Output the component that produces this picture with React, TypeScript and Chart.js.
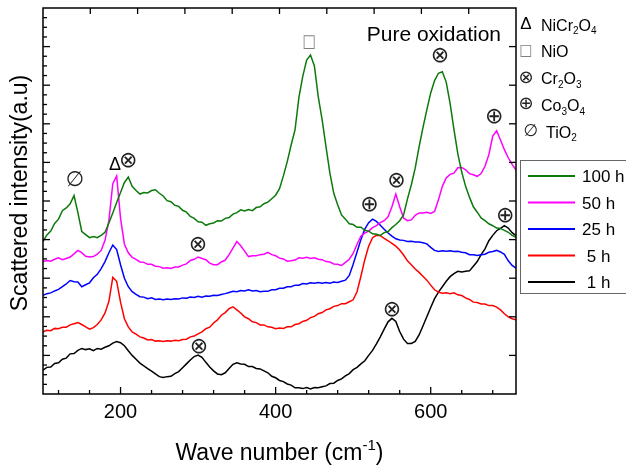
import { useEffect, useRef } from "react";
import { Chart, registerables } from "chart.js";

Chart.register(...registerables);

// Raman spectra of the oxidised alloy, sampled every 5 cm-1 from 100 to 710 cm-1
const WAVE_MIN = 100;
const WAVE_MAX = 710;
const WAVE_STEP = 5;
const wavenumbers = Array.from(
  { length: (WAVE_MAX - WAVE_MIN) / WAVE_STEP + 1 },
  (_, i) => WAVE_MIN + i * WAVE_STEP
);

const oxid100h = [
  3.95, 4.12, 4.22, 4.42, 4.53, 4.75, 4.82, 4.93, 5.14, 4.7,
  4.21, 4.13, 4.05, 4.08, 4.05, 4.11, 4.19, 4.43, 4.69, 4.96,
  5.22, 5.48, 5.62, 5.38, 5.27, 5.18, 5.22, 5.21, 5.27, 5.29,
  5.2, 5.13, 5.01, 4.98, 4.89, 4.86, 4.76, 4.71, 4.6, 4.55,
  4.46, 4.45, 4.37, 4.41, 4.43, 4.49, 4.48, 4.55, 4.57, 4.66,
  4.7, 4.77, 4.74, 4.78, 4.75, 4.83, 4.85, 4.93, 4.97, 5.06,
  5.15, 5.32, 5.65, 6.02, 6.45, 6.84, 7.68, 8.23, 8.65, 8.78,
  8.5, 7.7, 7.1, 6.4, 5.72, 5.2, 4.9, 4.64, 4.53, 4.41,
  4.39, 4.32, 4.32, 4.24, 4.22, 4.15, 4.14, 4.11, 4.18, 4.21,
  4.31, 4.39, 4.49, 4.64, 5.05, 5.42, 5.85, 6.4, 6.9, 7.36,
  7.8, 8.12, 8.31, 8.35, 8.08, 7.53, 6.85, 6.22, 5.75, 5.38,
  5.1, 4.85, 4.71, 4.56, 4.49, 4.41, 4.36, 4.3, 4.29, 4.24,
  4.19, 4.11, 4.06,
];

const oxid50h = [
  3.43, 3.46, 3.44, 3.49, 3.53, 3.48, 3.51, 3.55, 3.63, 3.72,
  3.66, 3.57, 3.55, 3.56, 3.62, 3.72, 3.98, 4.5, 5.45, 5.65,
  4.55, 3.88, 3.66, 3.54, 3.49, 3.42, 3.41, 3.36, 3.36, 3.31,
  3.3, 3.26, 3.27, 3.25, 3.29, 3.29, 3.34, 3.37, 3.46, 3.49,
  3.55, 3.51, 3.48, 3.39, 3.35, 3.35, 3.42, 3.47, 3.61, 3.78,
  3.95, 3.84, 3.7, 3.56, 3.58, 3.58, 3.61, 3.62, 3.67, 3.61,
  3.58, 3.52, 3.5, 3.44, 3.45, 3.47, 3.53, 3.52, 3.54, 3.51,
  3.53, 3.49, 3.48, 3.43, 3.42, 3.37, 3.36, 3.33, 3.41, 3.49,
  3.64, 3.88, 4.09, 4.17, 4.22, 4.31, 4.36, 4.44, 4.49, 4.59,
  4.85, 5.18, 4.85, 4.56, 4.49, 4.51, 4.63, 4.69, 4.69, 4.71,
  4.68, 4.73, 5.03, 5.38, 5.6, 5.69, 5.72, 5.86, 5.87, 5.81,
  5.71, 5.68, 5.64, 5.71, 5.9, 6.2, 6.68, 6.82, 6.58, 6.33,
  6.12, 5.95, 5.8,
];

const oxid25h = [
  2.56, 2.6, 2.62, 2.67, 2.71, 2.78, 2.85, 2.94, 2.91, 2.9,
  2.78, 2.83, 2.88, 3.01, 3.1, 3.25, 3.43, 3.66, 3.86, 3.74,
  3.35, 3.0, 2.78, 2.65, 2.58, 2.52, 2.51, 2.47, 2.49, 2.45,
  2.46, 2.44, 2.46, 2.45, 2.47, 2.46, 2.49, 2.48, 2.51, 2.5,
  2.53, 2.51, 2.54, 2.53, 2.56, 2.55, 2.58, 2.6, 2.63, 2.66,
  2.65, 2.68, 2.67, 2.7, 2.67, 2.68, 2.65, 2.66, 2.66, 2.7,
  2.7, 2.74, 2.74, 2.78, 2.78, 2.82, 2.82, 2.86, 2.85, 2.88,
  2.87, 2.89, 2.87, 2.89, 2.87, 2.9, 2.89, 2.92, 2.95, 3.07,
  3.36, 3.68, 4.0, 4.27, 4.44, 4.53, 4.47, 4.37, 4.27, 4.17,
  4.09, 4.02, 3.99, 3.98, 3.95, 3.96, 3.94, 3.94, 3.92, 3.89,
  3.8, 3.72, 3.69, 3.71, 3.7, 3.71, 3.69, 3.7, 3.67, 3.66,
  3.61, 3.61, 3.59, 3.61, 3.62, 3.67, 3.69, 3.72, 3.68, 3.62,
  3.45, 3.33, 3.26,
];

const oxid5h = [
  1.61, 1.65, 1.64, 1.7, 1.69, 1.73, 1.73, 1.79, 1.82, 1.85,
  1.8, 1.74, 1.68, 1.72, 1.8, 1.92, 2.1, 2.4, 3.02, 2.92,
  2.38, 1.95, 1.74, 1.61, 1.55, 1.48, 1.45, 1.4, 1.41, 1.37,
  1.38, 1.36, 1.38, 1.37, 1.39, 1.38, 1.41, 1.42, 1.48, 1.5,
  1.56, 1.61, 1.69, 1.73, 1.84, 1.92, 2.04, 2.11, 2.21, 2.26,
  2.18, 2.1, 2.0, 1.95, 1.87, 1.85, 1.79, 1.79, 1.74, 1.73,
  1.69, 1.71, 1.7, 1.74, 1.74, 1.8, 1.82, 1.88, 1.91, 1.98,
  2.01, 2.08, 2.11, 2.18, 2.21, 2.27, 2.29, 2.34, 2.34, 2.39,
  2.44, 2.65, 3.05, 3.48, 3.83, 4.05, 4.11, 4.1, 4.03, 3.97,
  3.9, 3.83, 3.73, 3.6, 3.45, 3.35, 3.24, 3.15, 3.05, 2.95,
  2.82, 2.7, 2.64, 2.61, 2.62, 2.6, 2.62, 2.57, 2.55, 2.49,
  2.45, 2.38, 2.37, 2.33, 2.33, 2.29, 2.29, 2.25, 2.18, 2.08,
  2.0, 1.95, 1.92,
];

const oxid1h = [
  0.62, 0.69, 0.7, 0.79, 0.81, 0.9, 0.93, 1.04, 1.05, 1.13,
  1.18, 1.15, 1.17, 1.12, 1.18, 1.16, 1.21, 1.25, 1.32, 1.36,
  1.33, 1.25, 1.12, 1.0, 0.9, 0.8, 0.73, 0.66, 0.59, 0.52,
  0.45, 0.43, 0.45, 0.46, 0.53, 0.58, 0.68, 0.78, 0.88, 0.97,
  1.01, 0.95, 0.82, 0.7, 0.6, 0.52, 0.5, 0.55, 0.66, 0.77,
  0.81, 0.78, 0.77, 0.71, 0.71, 0.66, 0.65, 0.6, 0.55, 0.46,
  0.42, 0.35, 0.32, 0.26, 0.23, 0.16, 0.16, 0.14, 0.17, 0.13,
  0.17, 0.16, 0.19, 0.21, 0.27, 0.28, 0.35, 0.39, 0.47, 0.53,
  0.63, 0.69, 0.78, 0.86, 1.0, 1.13, 1.3, 1.48, 1.68, 1.87,
  1.96, 1.88, 1.62, 1.42, 1.31, 1.31, 1.36, 1.53, 1.76, 2.0,
  2.24, 2.47, 2.64, 2.78, 2.92, 3.04, 3.12, 3.18, 3.16, 3.18,
  3.19, 3.31, 3.43, 3.61, 3.76, 3.97, 4.11, 4.23, 4.29, 4.36,
  4.3, 4.18, 4.1,
];

const seriesLabels = ["100 h", "50 h", "25 h", " 5 h", " 1 h"];
const seriesColors = ["#0b7a0b", "#ff00ff", "#0000ff", "#ff0000", "#000000"];
const seriesValues = [oxid100h, oxid50h, oxid25h, oxid5h, oxid1h];

// Axis ticks (bottom wave-number scale, top mirror scale, intensity scale)
const xMajorTicks = [200, 400, 600];
const xMinorTicks = [120, 160, 240, 280, 320, 360, 440, 480, 520, 560, 640, 680];
const xTopTicks = [161, 222, 283, 344, 405, 466, 527, 588, 649];
const yMajorTicks = [1, 2, 3, 4, 5, 6, 7, 8, 9];
const yMinorPerMajor = 4;

// Phase key
const phaseSymbols = ["Δ", "□", "⊗", "⊕", "∅"];
const phaseNames = ["NiCr2O4", "NiO", "Cr2O3", "Co3O4", "TiO2"];

// Peak assignments: symbol, wave number, height
const peakSymbols = ["∅", "Δ", "⊗", "⊗", "⊗", "□", "⊕", "⊗", "⊗", "⊗", "⊕", "⊕"];
const peakWaves = [141, 193, 210, 300, 301, 443, 521, 556, 550, 612, 682, 696];
const peakHeights = [5.54, 5.93, 6.02, 3.86, 1.21, 9.1, 4.9, 5.5, 2.18, 8.76, 7.17, 4.61];

const TITLE = "Pure oxidation";
const X_TITLE = "Wave number (cm";
const X_TITLE_SUP = "-1";
const Y_TITLE = "Scattered intensity(a.u)";

const SANS = "'Liberation Sans', Arial, Helvetica, sans-serif";
const SYMBOL = "'DejaVu Sans', sans-serif";

type Run = { t: string; kind: "n" | "sub" | "sup" };

function chemRuns(name: string): Run[] {
  return name
    .split(/(\d+)/)
    .filter((s) => s.length > 0)
    .map((s) => ({ t: s, kind: /^\d+$/.test(s) ? "sub" : "n" }));
}

function drawRuns(
  ctx: CanvasRenderingContext2D,
  runs: Run[],
  x: number,
  baseline: number,
  size: number,
  align: "left" | "center"
) {
  const small = Math.round(size * 0.64);
  const widths = runs.map((r) => {
    ctx.font = `${r.kind === "n" ? size : small}px ${SANS}`;
    return ctx.measureText(r.t).width;
  });
  const total = widths.reduce((a, b) => a + b, 0);
  let cx = align === "center" ? x - total / 2 : x;
  ctx.textAlign = "left";
  ctx.textBaseline = "alphabetic";
  runs.forEach((r, i) => {
    ctx.font = `${r.kind === "n" ? size : small}px ${SANS}`;
    const dy = r.kind === "sub" ? size * 0.24 : r.kind === "sup" ? -size * 0.45 : 0;
    ctx.fillText(r.t, cx, baseline + dy);
    cx += widths[i];
  });
}

// Draws one phase symbol centred on (x, y); `big` selects the in-plot size
function drawSymbol(ctx: CanvasRenderingContext2D, s: string, x: number, y: number, big: boolean) {
  ctx.save();
  ctx.textAlign = "center";
  ctx.textBaseline = "middle";
  ctx.translate(x, y);
  if (s === "Δ") {
    ctx.fillStyle = "#000";
    ctx.font = `${big ? 18 : 17}px ${SANS}`;
    ctx.fillText(s, 0, 0);
  } else if (s === "□") {
    ctx.fillStyle = "#808080";
    ctx.font = `${big ? 18 : 16}px ${SYMBOL}`;
    ctx.scale(big ? 0.78 : 0.85, 1);
    ctx.fillText(s, 0, 0);
  } else if (s === "∅") {
    ctx.fillStyle = "#222";
    ctx.font = `${big ? 21 : 17}px ${SYMBOL}`;
    ctx.fillText(s, 0, 0);
  } else {
    ctx.fillStyle = "#222";
    ctx.font = `${big ? 22 : 18}px ${SYMBOL}`;
    ctx.fillText(s, 0, 0);
  }
  ctx.restore();
}

const decorations = {
  id: "decorations",
  afterDatasetsDraw(chart: any) {
    const { ctx, chartArea: a, scales } = chart;
    const xs = scales.x;
    const ys = scales.y;
    ctx.save();

    const seg = (x1: number, y1: number, x2: number, y2: number) => {
      ctx.beginPath();
      ctx.moveTo(x1, y1);
      ctx.lineTo(x2, y2);
      ctx.stroke();
    };

    // frame
    ctx.strokeStyle = "#000";
    ctx.lineWidth = 1.5;
    ctx.strokeRect(a.left, a.top, a.right - a.left, a.bottom - a.top);

    // inward ticks
    ctx.lineWidth = 1.3;
    xMajorTicks.forEach((v) => {
      const px = xs.getPixelForValue(v);
      seg(px, a.bottom, px, a.bottom - 7);
    });
    xMinorTicks.forEach((v) => {
      const px = xs.getPixelForValue(v);
      seg(px, a.bottom, px, a.bottom - 4);
    });
    xTopTicks.forEach((v) => {
      const px = xs.getPixelForValue(v);
      seg(px, a.top, px, a.top + 6);
    });
    const yMinor: number[] = [];
    [0, ...yMajorTicks].forEach((m) => {
      for (let k = 1; k < yMinorPerMajor; k++) yMinor.push(m + k / yMinorPerMajor);
    });
    yMajorTicks.forEach((v) => {
      const py = ys.getPixelForValue(v);
      seg(a.left, py, a.left + 7, py);
      seg(a.right, py, a.right - 7, py);
    });
    yMinor.forEach((v) => {
      const py = ys.getPixelForValue(v);
      seg(a.left, py, a.left + 4, py);
    });

    // tick labels
    ctx.fillStyle = "#000";
    ctx.font = `20px ${SANS}`;
    ctx.textAlign = "center";
    ctx.textBaseline = "alphabetic";
    xMajorTicks.forEach((v) => {
      ctx.fillText(String(v), xs.getPixelForValue(v), a.bottom + 24);
    });

    // axis titles
    const xt: Run[] = [
      { t: X_TITLE, kind: "n" },
      { t: X_TITLE_SUP, kind: "sup" },
      { t: ")", kind: "n" },
    ];
    drawRuns(ctx, xt, (a.left + a.right) / 2, a.bottom + 66, 23, "center");

    ctx.save();
    ctx.translate(27, 193);
    ctx.rotate(-Math.PI / 2);
    ctx.font = `23px ${SANS}`;
    ctx.textAlign = "center";
    ctx.textBaseline = "alphabetic";
    ctx.fillText(Y_TITLE, 0, 0);
    ctx.restore();

    // title inside the frame
    ctx.font = `21px ${SANS}`;
    ctx.textAlign = "left";
    ctx.textBaseline = "alphabetic";
    ctx.fillText(TITLE, xs.getPixelForValue(517.5), ys.getPixelForValue(9.15));

    // peak assignment symbols
    peakSymbols.forEach((s, i) => {
      drawSymbol(ctx, s, xs.getPixelForValue(peakWaves[i]), ys.getPixelForValue(peakHeights[i]), true);
    });

    // phase key (top right, outside the frame)
    phaseSymbols.forEach((s, i) => {
      const base = 30.5 + i * 26.75;
      const indent = i === 4 ? 5 : 0;
      drawSymbol(ctx, s, a.right + 10 + indent, base - 6, false);
      ctx.fillStyle = "#000";
      drawRuns(ctx, chemRuns(phaseNames[i]), a.right + 25 + indent, base, 16, "left");
    });

    // series legend box
    const bx = a.right + 4;
    const by = 160;
    ctx.strokeStyle = "#666";
    ctx.lineWidth = 1;
    ctx.strokeRect(bx + 0.5, by + 0.5, 140, 133);
    chart.data.datasets.forEach((ds: any, i: number) => {
      const cy = 176 + i * 26.5;
      ctx.strokeStyle = ds.borderColor;
      ctx.lineWidth = 2;
      seg(bx + 8, cy, bx + 55, cy);
      ctx.fillStyle = "#000";
      ctx.font = `17px ${SANS}`;
      ctx.textAlign = "left";
      ctx.textBaseline = "alphabetic";
      ctx.fillText(ds.label, bx + 62, cy + 6);
    });

    ctx.restore();
  },
};

export default function App() {
  const canvasRef = useRef<HTMLCanvasElement | null>(null);

  useEffect(() => {
    const canvas = canvasRef.current;
    if (!canvas) return;
    const chart = new Chart(canvas, {
      type: "line",
      data: {
        datasets: seriesValues.map((vals, i) => ({
          label: seriesLabels[i],
          data: vals.map((y, k) => ({ x: wavenumbers[k], y })),
          borderColor: seriesColors[i],
          backgroundColor: seriesColors[i],
          borderWidth: 1.5,
          pointRadius: 0,
          tension: 0,
          fill: false,
        })),
      },
      options: {
        animation: false,
        responsive: false,
        events: [],
        layout: { padding: { left: 43, top: 8, right: 110, bottom: 74 } },
        plugins: {
          legend: { display: false },
          tooltip: { enabled: false },
        },
        scales: {
          x: { type: "linear", min: WAVE_MIN, max: WAVE_MAX, display: false },
          y: { type: "linear", min: 0, max: 10, display: false },
        },
      },
      plugins: [decorations],
    });
    return () => chart.destroy();
  }, []);

  return (
    <div style={{ position: "absolute", left: 0, top: 0, width: 626, height: 468, background: "#fff" }}>
      <canvas ref={canvasRef} width={626} height={468} style={{ display: "block" }} />
    </div>
  );
}
